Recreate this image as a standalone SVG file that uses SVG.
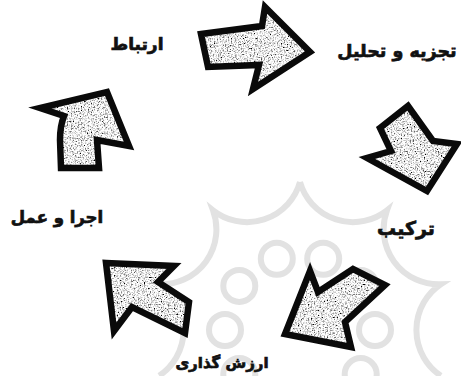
<svg xmlns="http://www.w3.org/2000/svg" width="461" height="376" viewBox="0 0 461 376">
<defs>
<style>
.lbl{font-family:"DejaVu Sans",sans-serif;font-weight:bold;fill:#111;stroke:#111;stroke-width:0.7;text-anchor:middle}
.af{fill:#999;filter:url(#tex)}
.ao{fill:none;stroke:#0a0a0a;stroke-width:6.5;stroke-linejoin:miter;stroke-miterlimit:6}
.wm{fill:none;stroke:#e2e2e2;stroke-width:6}
</style>
<filter id="tex" x="-5%" y="-5%" width="110%" height="110%">
<feTurbulence type="fractalNoise" baseFrequency="0.7" numOctaves="3" seed="4" result="n"/>
<feColorMatrix in="n" type="matrix" values="3 0 0 0 -0.65  3 0 0 0 -0.65  3 0 0 0 -0.65  0 0 0 0 1" result="g"/>
<feComposite in="g" in2="SourceAlpha" operator="in"/>
</filter>
<path id="a1" d="M201,34 L262,26 L265,7 L310,52 L253,89 L259,65 L208,67 Z"/>
<path id="a2" d="M380,128 L408,106 L433,141 L457,144 L427,191 L367,158 L391,151 Z"/>
<path id="a3" d="M310,271 L318,292 L353,269 L385,285 L345,322 L351,347 L285,334 Z"/>
<path id="a4" d="M106,263 L174,266 L158,282 L189,302 L185,333 L132,307 L114,331 Z"/>
<path id="a5" d="M61,168 L99,168 L97,140 L129,146 L107,92 L40,108 L64,116 Q60,126 60,140 Z"/>
</defs>
<rect width="461" height="376" fill="#fff"/>
<g id="watermark">
<path class="wm" d="M300,182 A55,55 0 0 0 387,210.3 A55,55 0 0 0 440.8,284.3 A55,55 0 0 0 440.8,375.7 M300,182 A55,55 0 0 1 213,210.3 A55,55 0 0 1 159.2,284.3 A55,55 0 0 1 159.2,375.7"/>
<circle class="wm" cx="323.2" cy="258.7" r="16"/>
<circle class="wm" cx="276.8" cy="258.7" r="16"/>
<circle class="wm" cx="360.7" cy="285.9" r="16"/>
<circle class="wm" cx="239.3" cy="285.9" r="16"/>
<circle class="wm" cx="375" cy="330" r="16"/>
<circle class="wm" cx="225" cy="330" r="16"/>
<circle class="wm" cx="360.7" cy="374.1" r="16"/>
<circle class="wm" cx="239.3" cy="374.1" r="16"/>
</g>
<g id="connectors">
<use href="#a1" class="af"/><use href="#a1" class="ao"/>
<use href="#a2" class="af"/><use href="#a2" class="ao"/>
<use href="#a3" class="af"/><use href="#a3" class="ao"/>
<use href="#a4" class="af"/><use href="#a4" class="ao"/>
<use href="#a5" class="af"/><use href="#a5" class="ao"/>
</g>
<g id="n-ertebat"><text class="lbl" x="137" y="50" font-size="17">ارتباط</text></g>
<g id="n-tajzie"><text class="lbl" x="397" y="57" font-size="17.5">تجزیه و تحلیل</text></g>
<g id="n-tarkib"><text class="lbl" x="406" y="235" font-size="19">ترکیب</text></g>
<g id="n-arzeshgozari"><text class="lbl" x="222" y="368" font-size="15">ارزش گذاری</text></g>
<g id="n-ejra"><text class="lbl" x="57" y="223" font-size="16.5">اجرا و عمل</text></g>
</svg>
